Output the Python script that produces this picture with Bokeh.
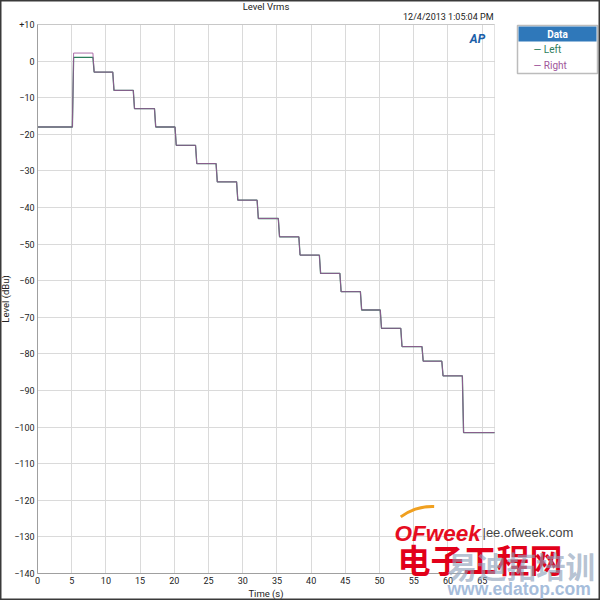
from bokeh.plotting import figure
from bokeh.models import Range1d, FixedTicker, Label, BoxAnnotation
from bokeh.embed import file_html
from bokeh.resources import INLINE

# ---------------- data ----------------
step_start_s = [0.0, 5.1, 8.1, 11.0, 14.0, 17.1, 20.1, 23.1, 26.1, 29.1, 32.1,
                35.2, 38.2, 41.2, 44.2, 47.2, 50.1, 53.1, 56.2, 59.1, 62.1]
left_level_dbu = [-18, 1.0, -3, -8, -13, -18, -23, -28, -33, -38, -43,
                  -48, -53, -58, -63, -68, -73, -78, -82, -86, -101.5]
right_level_dbu = [-18, 2.2, -3, -8, -13, -18, -23, -28, -33, -38, -43,
                   -48, -53, -58, -63, -68, -73, -78, -82, -86, -101.5]
t_end_s = 66.8

x_ticks = [0, 5, 10, 15, 20, 25, 30, 35, 40, 45, 50, 55, 60, 65]
y_ticks = [10, 0, -10, -20, -30, -40, -50, -60, -70, -80, -90, -100, -110, -120, -130, -140]
y_tick_labels = {10: "+10"}
y_min, y_max = -140, 10
series_names = ["Left", "Right"]

title_text = "Level Vrms"
timestamp_text = "12/4/2013 1:05:04 PM"
legend_title = "Data"

# ---------------- styling / layout ----------------
FONT = "Roboto"
LEFT_COLOR = "#2e7d5b"
RIGHT_COLOR = "#a0569a"
GRID = "#dadada"
AXIS = "#a0a0a0"
TXT = "#222222"

W, H = 600, 600
# plot-area box on the canvas (pixels)
PX_L, PX_R, PX_T, PX_B = 37, 494, 24, 573
SX = (t_end_s - 0) / (PX_R - PX_L)       # data units per px (x)
SY = (y_max - y_min) / (PX_B - PX_T)     # data units per px (y)


def dx(px):
    return (px - PX_L) * SX


def dy(py):
    return y_max - (py - PX_T) * SY


def step_trace(starts, levels, end, ramp=0.18):
    xs, ys = [starts[0]], [levels[0]]
    for t, prev, v in zip(starts[1:], levels[:-1], levels[1:]):
        xs += [t, t + ramp]
        ys += [prev, v]
    xs.append(end)
    ys.append(levels[-1])
    return xs, ys


p = figure(width=W, height=H, title=None,
           x_range=Range1d(dx(0), dx(W)), y_range=Range1d(dy(H), dy(0)),
           output_backend="svg", toolbar_location=None,
           min_border=0, min_border_left=0, min_border_right=0,
           min_border_top=0, min_border_bottom=0)
p.background_fill_color = "white"
p.border_fill_color = "white"
p.outline_line_color = "#3a3a3a"
p.outline_line_width = 2

# axes drawn at the plot-area edges
p.xaxis.fixed_location = y_min
p.yaxis.fixed_location = 0
p.xaxis.bounds = (0, t_end_s)
p.yaxis.bounds = (y_min, y_max)
p.xaxis.ticker = FixedTicker(ticks=x_ticks)
p.yaxis.ticker = FixedTicker(ticks=y_ticks)
p.yaxis.major_label_overrides = y_tick_labels
p.xaxis.axis_label = "Time (s)"
p.yaxis.axis_label = "Level (dBu)"
for ax in (p.xaxis, p.yaxis):
    ax.axis_line_color = AXIS
    ax.major_tick_line_color = None
    ax.minor_tick_line_color = None
    ax.major_tick_out = 0
    ax.major_tick_in = 0
    ax.minor_tick_out = 0
    ax.minor_tick_in = 0
    ax.major_label_text_font = FONT
    ax.major_label_text_font_size = "9px"
    ax.major_label_text_color = TXT
    ax.axis_label_text_font = FONT
    ax.axis_label_text_font_size = "9.5px"
    ax.axis_label_text_font_style = "normal"
    ax.axis_label_text_color = TXT
p.xaxis.major_label_standoff = 3
p.yaxis.major_label_standoff = 3
p.xaxis.axis_label_standoff = 1
p.yaxis.axis_label_standoff = 0

# grid lines restricted to the plot area
for g in list(p.xgrid) + list(p.ygrid):
    g.grid_line_color = GRID
    g.grid_line_width = 1
has_cross = "cross_bounds" in p.xgrid[0].properties()
if has_cross:
    p.xgrid[0].cross_bounds = (y_min, y_max)
    p.ygrid[0].cross_bounds = (0, t_end_s)
    p.xgrid[0].bounds = (0, t_end_s)
    p.ygrid[0].bounds = (y_min, y_max)
else:
    p.grid.visible = False
    p.segment(x0=x_ticks, y0=[y_min] * len(x_ticks), x1=x_ticks, y1=[y_max] * len(x_ticks),
              line_color=GRID, line_width=1)
    p.segment(x0=[0] * len(y_ticks), y0=y_ticks, x1=[t_end_s] * len(y_ticks), y1=y_ticks,
              line_color=GRID, line_width=1)

# plot-area border
p.add_layout(BoxAnnotation(left=0, right=t_end_s, bottom=y_min, top=y_max,
                           fill_alpha=0, line_color=AXIS, line_width=1, level="underlay"))

# data
xl, yl = step_trace(step_start_s, left_level_dbu, t_end_s)
xr, yr = step_trace(step_start_s, right_level_dbu, t_end_s)
p.line(xl, yl, line_color=LEFT_COLOR, line_width=1.3)
p.line(xr, yr, line_color=RIGHT_COLOR, line_width=1.0, line_alpha=0.85)

# title and timestamp
p.add_layout(Label(x=dx(265.5), y=dy(6), text=title_text,
                   text_align="center", text_baseline="middle",
                   text_font=FONT, text_font_size="9.5px", text_color=TXT))
p.add_layout(Label(x=dx(493), y=dy(16.5), text=timestamp_text,
                   text_align="right", text_baseline="middle",
                   text_font=FONT, text_font_size="9px", text_color=TXT))

# AP logo
p.add_layout(Label(x=dx(477), y=dy(38), text="AP",
                   text_align="center", text_baseline="middle",
                   text_font=FONT, text_font_size="12px",
                   text_font_style="bold italic", text_color="#1b5fa8"))

# legend
p.add_layout(BoxAnnotation(left=dx(517), right=dx(597), top=dy(25), bottom=dy(73),
                           fill_color="white", fill_alpha=1.0,
                           line_color="#222222", line_width=1.5))
p.add_layout(BoxAnnotation(left=dx(518), right=dx(596), top=dy(26), bottom=dy(41),
                           fill_color="#2f78ba", fill_alpha=1.0, line_color=None))
p.add_layout(Label(x=dx(557), y=dy(33.5), text=legend_title,
                   text_align="center", text_baseline="middle",
                   text_font=FONT, text_font_size="10px", text_font_style="bold",
                   text_color="white"))
for name, col, py in zip(series_names, [LEFT_COLOR, RIGHT_COLOR], [49, 65]):
    p.add_layout(Label(x=dx(533), y=dy(py), text="\u2014 " + name,
                       text_align="left", text_baseline="middle",
                       text_font=FONT, text_font_size="10px", text_color=col))

# watermark
p.arc(x=dx(432), y=dy(560), radius=54, radius_units="screen",
      start_angle=1.54, end_angle=2.2, line_color="#f0a020", line_width=3)
p.add_layout(Label(x=dx(394), y=dy(532.5), text="OFweek", text_align="left",
                   text_baseline="alphabetic", text_font="Liberation Sans",
                   text_font_size="22.5px", text_font_style="bold italic",
                   text_color="#e60d22"))
p.add_layout(Label(x=dx(482), y=dy(531.5), text="|ee.ofweek.com", text_align="left",
                   text_baseline="alphabetic", text_font="Liberation Sans",
                   text_font_size="13px", text_color="#444444"))
p.add_layout(Label(x=dx(397), y=dy(558.5), text="电子工程网", text_align="left",
                   text_baseline="middle", text_font="Noto Sans CJK SC",
                   text_font_size="33px", text_font_style="bold",
                   text_color="#e2001a"))
p.add_layout(Label(x=dx(447), y=dy(564.5), text="易迪拓培训", text_align="left",
                   text_baseline="middle", text_font="Noto Sans CJK SC",
                   text_font_size="29.5px", text_font_style="bold",
                   text_color="#8da0ba", text_alpha=0.65))
p.add_layout(Label(x=dx(447), y=dy(588), text="www.edatop.com", text_align="left",
                   text_baseline="middle", text_font="Liberation Sans",
                   text_font_size="17.5px", text_font_style="bold",
                   text_color="#a6bddb"))

open("out.html", "w").write(file_html(p, INLINE))
